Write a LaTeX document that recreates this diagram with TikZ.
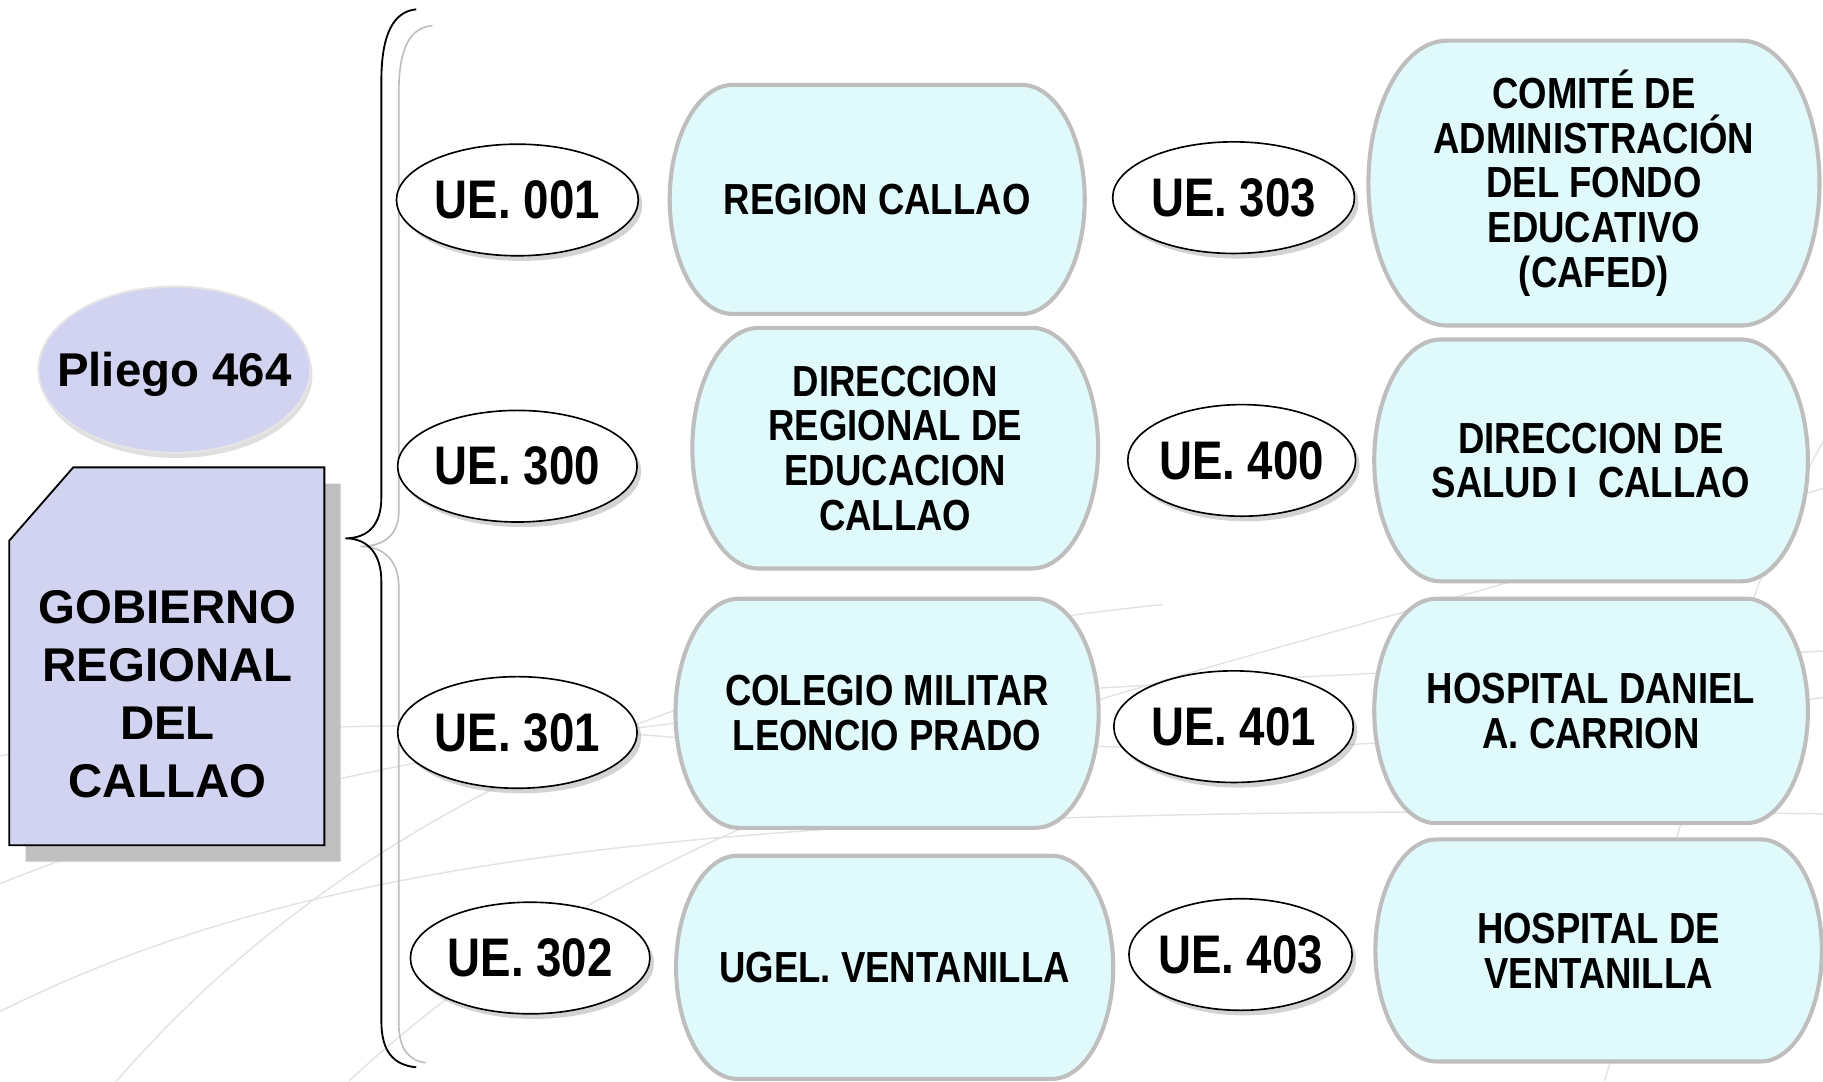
\documentclass[tikz,border=0pt]{standalone}
\usepackage{fontspec}
\setmainfont{Liberation Sans}
\newfontfamily\estrecha[FakeStretch=0.84]{Liberation Sans}
\usetikzlibrary{shapes.geometric}
\usetikzlibrary{shadows}

\definecolor{lila}{RGB}{209,211,241}
\definecolor{celeste}{RGB}{224,250,252}
\definecolor{bordecaja}{RGB}{190,190,190}
\definecolor{sombra}{RGB}{191,191,191}
\definecolor{fondo}{RGB}{226,226,226}

\tikzset{
  ue/.style={ellipse, draw=black, line width=.8pt, fill=white, inner xsep=-6pt, inner ysep=0pt,
    minimum height=1.92cm, font=\estrecha\bfseries\fontsize{26.6pt}{28pt}\selectfont,
    drop shadow={shadow xshift=2pt, shadow yshift=-2.5pt, opacity=.35}},
  caja/.style={fill=celeste, draw=bordecaja, line width=2pt},
  textocaja/.style={align=center, inner sep=0pt,
    font=\estrecha\bfseries\fontsize{21.3pt}{21.9pt}\selectfont},
  lineafondo/.style={draw=fondo, line width=.7pt},
}

% caja con lados curvos: nombre, x, y, medio ancho, medio alto, texto
\newcommand\cajaue[6]{%
  \filldraw[caja] (#2-#4+0.55*#5,#3-#5) -- (#2+#4-0.55*#5,#3-#5)
    .. controls (#2+#4-0.25*#5,#3-#5) and (#2+#4,#3-0.55*#5) .. (#2+#4,#3)
    .. controls (#2+#4,#3+0.55*#5) and (#2+#4-0.25*#5,#3+#5) .. (#2+#4-0.55*#5,#3+#5)
    -- (#2-#4+0.55*#5,#3+#5)
    .. controls (#2-#4+0.25*#5,#3+#5) and (#2-#4,#3+0.55*#5) .. (#2-#4,#3)
    .. controls (#2-#4,#3-0.55*#5) and (#2-#4+0.25*#5,#3-#5) .. cycle;
  \node[textocaja] (#1) at (#2,#3) {#6};
}

\begin{document}
\begin{tikzpicture}[x=0.02cm, y=-0.02cm]
  \useasboundingbox (0,0) rectangle (1568,930);

  % lineas del fondo
  \draw[lineafondo] (0,760) .. controls (400,600) and (800,600) .. (1568,560);
  \draw[lineafondo] (0,870) .. controls (300,720) and (700,690) .. (1568,700);
  \draw[lineafondo] (100,930) .. controls (300,700) and (600,560) .. (1000,520);
  \draw[lineafondo] (300,930) .. controls (600,650) and (1000,600) .. (1568,420);
  \draw[lineafondo] (900,640) .. controls (1100,650) and (1250,640) .. (1568,600);
  \draw[lineafondo] (1380,930) .. controls (1450,700) and (1500,500) .. (1568,380);
  \draw[lineafondo] (0,650) .. controls (250,615) and (450,620) .. (640,640);

  \node[ellipse, fill=lila, draw=white!80!gray, line width=1pt, inner xsep=-11pt, inner ysep=0pt,
    text depth=0pt, minimum width=4.68cm, minimum height=2.86cm, font=\bfseries\fontsize{23.2pt}{24pt}\selectfont,
    drop shadow={shadow xshift=1pt, shadow yshift=-2.5pt, opacity=.25}] (pliego) at (150,318) {Pliego 464};

  \fill[sombra] (22,479) -- (77,416) -- (293,416) -- (293,741) -- (22,741) -- cycle;
  \filldraw[fill=lila, draw=black, line width=.9pt] (8,465) -- (63,402) -- (279,402) -- (279,727) -- (8,727) -- cycle;
  \node[align=center, font=\bfseries\fontsize{23.2pt}{28.3pt}\selectfont] (gobierno) at (144,597) {GOBIERNO\\REGIONAL\\DEL\\CALLAO};

  % llaves
  \draw[bordecaja, line width=.8pt] (372,22) .. controls (352,24) and (343,42) .. (343,80) -- (343,440)
    .. controls (343,460) and (330,470) .. (310,470) .. controls (330,470) and (343,482) .. (343,505)
    -- (343,880) .. controls (343,900) and (350,912) .. (366,914);
  \draw[line width=.9pt] (358,8) .. controls (338,10) and (328,30) .. (328,70) -- (328,428)
    .. controls (328,452) and (316,463) .. (297,463) .. controls (316,463) and (328,476) .. (328,500)
    -- (328,878) .. controls (328,904) and (338,916) .. (358,918);

  \node[ue, minimum width=4.16cm] (ue001) at (445,172) {UE. 001};
  \node[ue, minimum width=4.12cm] (ue300) at (445,401) {UE. 300};
  \node[ue, minimum width=4.12cm] (ue301) at (445,630) {UE. 301};
  \node[ue, minimum width=4.12cm] (ue302) at (456,824) {UE. 302};
  \node[ue, minimum width=4.16cm] (ue303) at (1061,170) {UE. 303};
  \node[ue, minimum width=3.92cm] (ue400) at (1068,396) {UE. 400};
  \node[ue, minimum width=4.12cm] (ue401) at (1061,625) {UE. 401};
  \node[ue, minimum width=3.84cm] (ue403) at (1067,821) {UE. 403};

  \cajaue{regcallao}{754.5}{171.5}{178.5}{98.5}{REGION CALLAO}
  \cajaue{drec}{770}{385.5}{174.5}{103.5}{DIRECCION\\REGIONAL DE\\EDUCACION\\CALLAO}
  \cajaue{colegio}{763}{613.5}{182}{98.5}{COLEGIO MILITAR\\LEONCIO PRADO}
  \cajaue{ugel}{769.5}{832}{188}{96}{UGEL. VENTANILLA}
  \cajaue{cafed}{1371}{157.5}{194}{122.5}{COMITÉ DE\\ADMINISTRACIÓN\\DEL FONDO\\EDUCATIVO\\(CAFED)}
  \cajaue{diresa}{1368.5}{396}{186.5}{104}{DIRECCION DE\\SALUD I~ CALLAO}
  \cajaue{carrion}{1368.5}{611.5}{186.5}{96.5}{HOSPITAL DANIEL\\A. CARRION}
  \cajaue{hventanilla}{1375}{817.5}{192}{95.5}{HOSPITAL DE\\VENTANILLA}
\end{tikzpicture}
\end{document}
